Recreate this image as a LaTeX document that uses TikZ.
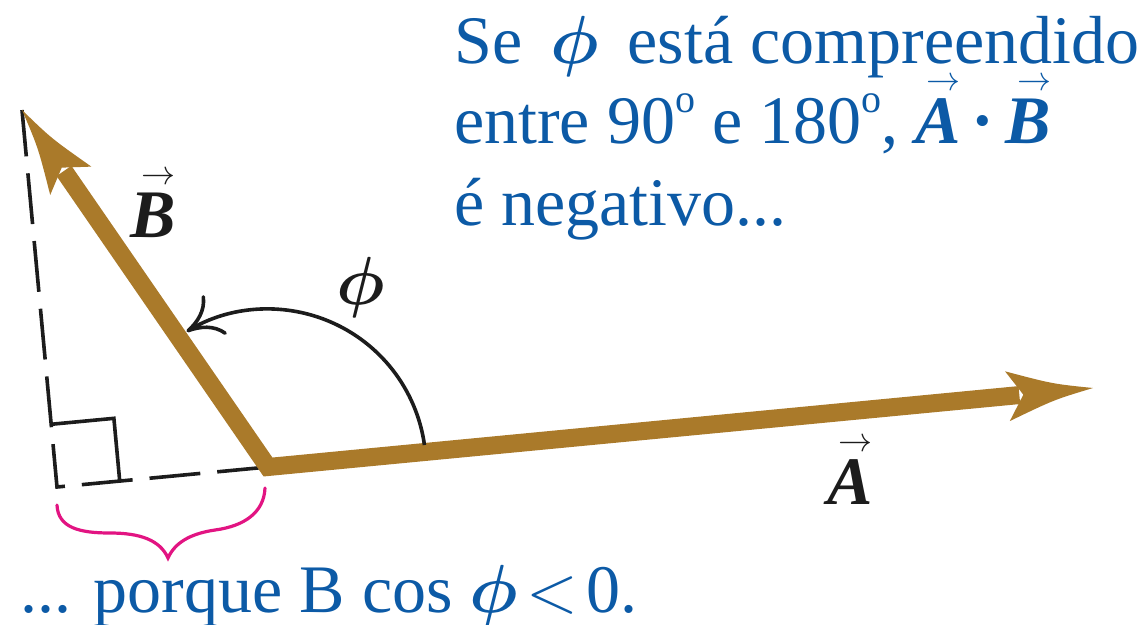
\RequirePackage{fix-cm}
\documentclass[tikz,border=0pt]{standalone}
\usepackage{fontspec}
\setmainfont{Liberation Serif}
\usetikzlibrary{calc,arrows.meta}
\definecolor{vecc}{RGB}{170,122,42}
\definecolor{txtblue}{RGB}{12,90,166}
\definecolor{bracec}{RGB}{226,20,130}
\definecolor{inkc}{RGB}{28,28,28}
\newcommand\vv[1]{{\setbox0=\hbox{\bfseries\itshape #1}\rlap{\kern0.25\wd0\raisebox{\dimexpr\ht0+0.11em\relax}{$\scriptscriptstyle\rightarrow$}}\box0}}
\newcommand\ord{\raisebox{0.45em}{\fontsize{40}{40}\selectfont o}}
\newcommand\phiv{{\boldmath$\phi$}}
\newcommand\headfill[2]{\fill[vecc] (#1) .. controls ($(#1)!40pt!(#2)!8pt!90:(#1)$) .. ($(#1)!86pt!(#2)!25pt!90:(#1)$) -- ($(#1)!70pt!(#2)$) -- ($(#1)!86pt!(#2)!25pt!-90:(#1)$) .. controls ($(#1)!40pt!(#2)!8pt!-90:(#1)$) .. (#1) -- cycle;}
\tikzset{
  bigtext/.style={font=\fontsize{68}{81}\selectfont, inner sep=0pt, anchor=base west},
  bluetext/.style={bigtext, text=txtblue},
  blacktext/.style={bigtext, text=inkc},
  vecshaft/.style={draw=vecc, line width=18pt, line join=miter, line cap=butt},
  dashline/.style={draw=inkc, line width=3.6pt, dash pattern=on 51pt off 17pt},
  thinline/.style={draw=inkc, line width=3.6pt},
  bracestyle/.style={draw=bracec, line width=3.2pt, line cap=round}
}
\begin{document}
\begin{tikzpicture}[x=1pt,y=-1pt]
\useasboundingbox (0,0) rectangle (1147,624);
\coordinate (O) at (268,467);
\coordinate (TA) at (1093,388);
\coordinate (TB) at (22,110);
\coordinate (F) at (57,487);
% projection lines
\draw[dashline] (O) -- (F) -- (TB);
\coordinate (R1) at ($(F)!63pt!(O)$);
\coordinate (R2) at ($(F)!63pt!(TB)$);
\draw[thinline] (R1) -- ($(R1)+(R2)-(F)$) -- (R2);
% vectors
\draw[vecshaft] ($(TB)!74pt!(O)$) -- (O) -- ($(TA)!74pt!(O)$);
\headfill{TA}{O}
\headfill{TB}{O}
% angle arc
\draw[thinline, -{Computer Modern Rightarrow[length=34pt,width=46pt]}] ([shift={(8:158pt)}]O) coordinate (arcstart) arc[start angle=8, end angle=121, radius=158pt];
\node[font=\fontsize{68}{81}\selectfont, text=inkc, inner sep=0pt] (lphi) at (361,287) {\phiv};
% vector labels
\node[blacktext] (lB) at (130,237) {\vv{B}};
\node[blacktext] (lA) at (827,504) {\vv{A}};
% brace
\draw[bracestyle] (57,505) .. controls (58,528) and (80,533) .. (110,533) .. controls (140,533) and (160,540) .. (168,558) .. controls (176,540) and (195,533) .. (215,530) .. controls (245,526) and (264,512) .. (265,488);
% texts
\node[bluetext] (t1) at (454,63) {Se\hspace{0.42em}\phiv\hspace{0.42em}está compreendido};
\node[bluetext] (t2) at (454,143) {entre 90\ord{} e 180\ord, \vv{A}\,\textbf{·}\,\vv{B}};
\node[bluetext] (t3) at (454,225) {é negativo...};
\node[bluetext] (t4) at (20,612) {... porque B cos \phiv\hspace{0.12em}$<$\hspace{0.12em}0.};
\end{tikzpicture}
\end{document}
